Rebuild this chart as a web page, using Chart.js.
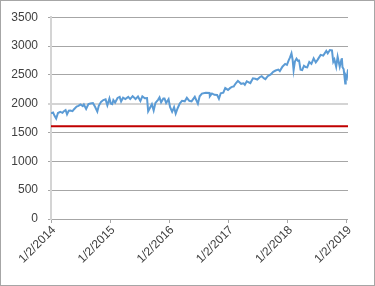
<!DOCTYPE html>
<html>
<head>
<meta charset="utf-8">
<script src="https://cdn.jsdelivr.net/npm/chart.js@4/dist/chart.umd.min.js"></script>
<style>
  html, body { margin: 0; padding: 0; background: #fff; }
  #wrap { width: 375px; height: 286px; }
</style>
</head>
<body>
<div id="wrap"><canvas id="c" width="375" height="286"></canvas></div>
<script>
// closing values (roughly weekly where it moves)
const dates = [
  '2014-01-02','2014-01-15','2014-01-24','2014-02-03','2014-02-14','2014-02-28','2014-03-14','2014-03-21',
  '2014-04-02','2014-04-11','2014-04-22','2014-05-01','2014-05-15','2014-05-23','2014-06-09','2014-06-20',
  '2014-07-03','2014-07-17','2014-07-24','2014-08-07','2014-08-21','2014-09-02','2014-09-18','2014-10-01',
  '2014-10-15','2014-10-24','2014-11-07','2014-11-21','2014-12-05','2014-12-16','2014-12-29',
  '2015-01-06','2015-01-15','2015-01-22','2015-02-02','2015-02-17','2015-03-02','2015-03-11','2015-03-23',
  '2015-04-06','2015-04-24','2015-05-06','2015-05-21','2015-06-08','2015-06-23','2015-07-08','2015-07-20',
  '2015-08-04','2015-08-18','2015-08-25','2015-09-04','2015-09-17','2015-09-28','2015-10-09','2015-10-26',
  '2015-11-03','2015-11-13','2015-11-27','2015-12-04','2015-12-14','2015-12-29',
  '2016-01-07','2016-01-20','2016-02-01','2016-02-11','2016-02-23','2016-03-07','2016-03-21','2016-04-07',
  '2016-04-20','2016-05-05','2016-05-19','2016-06-08','2016-06-27','2016-07-08','2016-07-22','2016-08-15',
  '2016-09-07','2016-09-09','2016-09-22','2016-10-07','2016-10-24','2016-11-04','2016-11-15','2016-12-01',
  '2016-12-13','2016-12-30',
  '2017-01-13','2017-01-26','2017-02-03','2017-02-15','2017-03-01','2017-03-21','2017-04-05','2017-04-13',
  '2017-04-25','2017-05-17','2017-06-02','2017-06-16','2017-06-29','2017-07-14','2017-07-26','2017-08-10',
  '2017-08-18','2017-09-01','2017-09-20','2017-10-05','2017-10-20','2017-11-06','2017-11-15','2017-12-01',
  '2017-12-18','2017-12-29',
  '2018-01-08','2018-01-17','2018-01-26','2018-02-02','2018-02-08','2018-02-16','2018-02-26','2018-03-08',
  '2018-03-13','2018-03-23','2018-04-02','2018-04-13','2018-04-24','2018-05-03','2018-05-16','2018-05-29',
  '2018-06-12','2018-06-25','2018-07-06','2018-07-25','2018-08-10','2018-08-29','2018-09-07','2018-09-20',
  '2018-10-03','2018-10-11','2018-10-18','2018-10-29','2018-11-07','2018-11-20','2018-11-30','2018-12-03',
  '2018-12-07','2018-12-14','2018-12-24','2018-12-27',
  '2019-01-03','2019-01-10'
];
const closes = [
  1832,1848,1790,1742,1838,1859,1841,1866,
  1890,1815,1879,1883,1870,1900,1951,1963,
  1985,1958,1987,1910,1992,2002,2011,1946,
  1862,1964,2032,2063,2075,1972,2090,
  2002,1992,2063,2020,2100,2117,2040,2104,
  2080,2117,2080,2131,2080,2124,2046,2128,
  2093,2096,1867,1921,1990,1881,2014,2071,
  2109,2023,2090,2091,2012,2078,
  1943,1859,1939,1829,1921,2001,2051,2041,
  2102,2050,2040,2119,2000,2129,2175,2190,
  2186,2128,2177,2153,2151,2085,2180,2191,
  2271,2239,
  2274,2296,2297,2350,2396,2344,2353,2329,
  2388,2357,2439,2433,2419,2459,2477,2438,
  2425,2477,2508,2553,2575,2591,2565,2642,
  2690,2674,
  2747,2802,2873,2762,2581,2732,2780,2739,
  2765,2588,2582,2656,2634,2630,2722,2690,
  2787,2717,2760,2846,2833,2914,2872,2930,
  2925,2728,2768,2641,2814,2642,2760,2790,
  2633,2600,2351,2489,
  2448,2596
];
const threshold = [1610, 1610];
const tickDates = ['2014-01-02','2015-01-02','2016-01-02','2017-01-02','2018-01-02','2019-01-02'];
const tickLabels = ['1/2/2014','1/2/2015','1/2/2016','1/2/2017','1/2/2018','1/2/2019'];
const yTicks = [0, 500, 1000, 1500, 2000, 2500, 3000, 3500];

const DAY = 86400000;
const origin = Date.parse(tickDates[0]);
function dayOf(d) { return (Date.parse(d) - origin) / DAY; }

const xs = dates.map(dayOf);
const xMin = xs[0], xMax = xs[xs.length - 1];
const tickXs = tickDates.map(dayOf);

const frame = {
  id: 'frame',
  afterDraw(chart) {
    const ctx = chart.ctx;
    ctx.save();
    ctx.strokeStyle = '#a6a6a6';
    ctx.lineWidth = 1;
    ctx.strokeRect(0.5, 0.5, chart.width - 1, chart.height - 1);
    ctx.restore();
  }
};

new Chart(document.getElementById('c'), {
  type: 'line',
  data: {
    datasets: [
      {
        data: xs.map((x, i) => ({ x: x, y: closes[i] })),
        borderColor: '#5b9bd5',
        borderWidth: 2,
        pointRadius: 0,
        tension: 0,
        order: 1
      },
      {
        data: [{ x: xMin, y: threshold[0] }, { x: xMax, y: threshold[1] }],
        borderColor: '#c00000',
        borderWidth: 2,
        pointRadius: 0,
        order: 2
      }
    ]
  },
  options: {
    responsive: false,
    animation: false,
    layout: { padding: { left: 8, right: 27, top: 15, bottom: 0 } },
    plugins: { legend: { display: false }, tooltip: { enabled: false } },
    scales: {
      x: {
        type: 'linear',
        min: xMin,
        max: xMax,
        afterBuildTicks(scale) { scale.ticks = tickXs.map(v => ({ value: v })); },
        afterFit(scale) { scale.height = 67; },
        grid: { drawOnChartArea: false, drawTicks: true, tickLength: 4, color: '#a6a6a6' },
        border: { display: false },
        ticks: {
          autoSkip: false,
          minRotation: 45,
          maxRotation: 45,
          padding: 0,
          labelOffset: 3,
          color: '#404040',
          font: { family: 'Liberation Sans', size: 12 },
          callback(v) { const i = tickXs.indexOf(v); return i >= 0 ? tickLabels[i] : ''; }
        }
      },
      y: {
        min: 0,
        max: 3500,
        afterBuildTicks(scale) { scale.ticks = yTicks.map(v => ({ value: v })); },
        afterFit(scale) { scale.width = 43; },
        grid: {
          tickLength: 3,
          color: ctx => ctx.tick && ctx.tick.value === 2000 ? '#d4d4d4' : '#a6a6a6',
          lineWidth: ctx => ctx.tick && ctx.tick.value === 2000 ? 2 : 1
        },
        border: { display: true, color: '#d4d4d4', width: 2 },
        ticks: {
          padding: 10,
          color: '#404040',
          font: { family: 'Liberation Sans', size: 12 },
          callback: v => String(v)
        }
      }
    }
  },
  plugins: [frame]
});
</script>
</body>
</html>
